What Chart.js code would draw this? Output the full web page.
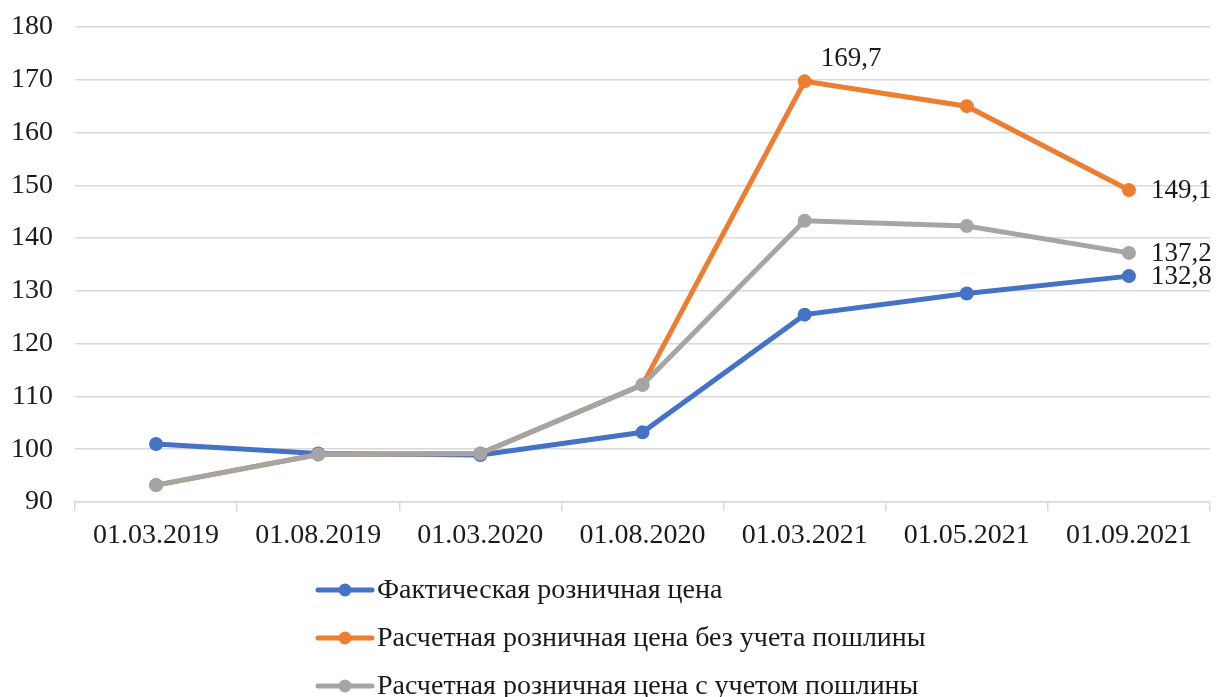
<!DOCTYPE html>
<html>
<head>
<meta charset="utf-8">
<script src="https://cdn.jsdelivr.net/npm/chart.js@4/dist/chart.umd.min.js"></script>
<style>
  html, body { margin: 0; padding: 0; background: #fff; }
  #wrap { width: 1217px; height: 697px; position: relative; }
</style>
</head>
<body>
<div id="wrap"><canvas id="chart"></canvas></div>
<script>
// Данные графика
const dates = ['01.03.2019', '01.08.2019', '01.03.2020', '01.08.2020', '01.03.2021', '01.05.2021', '01.09.2021'];
const actualPrice = [101.0, 99.2, 98.9, 103.2, 125.5, 129.5, 132.8];
const noDutyPrice = [93.2, 99.0, 99.2, 112.2, 169.7, 165.0, 149.1];
const withDutyPrice = [93.2, 99.0, 99.2, 112.2, 143.3, 142.3, 137.2];
const seriesNames = [
  'Фактическая розничная цена',
  'Расчетная розничная цена без учета пошлины',
  'Расчетная розничная цена с учетом пошлины'
];
const seriesColors = ['#4472C4', '#ED7D31', '#A5A5A5'];
// серый рисуется поверх остальных
const seriesOrder = [3, 2, 1];

// Подписи значений: [индекс ряда, индекс точки, где]
const valueLabels = [[1, 4, 'top'], [1, 6, 'right'], [2, 6, 'right'], [0, 6, 'right']];

const FONT = "'Liberation Serif', 'Times New Roman', serif";

function fmt(v) {
  return v.toFixed(1).replace('.', ',');
}

// Подписи данных
const labelPlugin = {
  id: 'valueLabels',
  afterDatasetsDraw(chart) {
    const ctx = chart.ctx;
    ctx.save();
    ctx.font = '27px ' + FONT;
    ctx.fillStyle = '#1a1a1a';
    ctx.textBaseline = 'middle';
    ctx.textAlign = 'left';
    valueLabels.forEach(([ds, idx, where]) => {
      const pt = chart.getDatasetMeta(ds).data[idx];
      const txt = fmt(chart.data.datasets[ds].data[idx]);
      if (where === 'top') {
        ctx.fillText(txt, pt.x + 16, pt.y - 22);
      } else {
        ctx.fillText(txt, pt.x + 22, pt.y + 1);
      }
    });
    ctx.restore();
  }
};

// Легенда столбиком внизу
const legendPlugin = {
  id: 'columnLegend',
  afterDraw(chart) {
    const ctx = chart.ctx;
    const base = chart.chartArea.bottom;
    ctx.save();
    chart.data.datasets.forEach((ds, i) => {
      const y = base + 88 + i * 48;
      ctx.strokeStyle = ds.borderColor;
      ctx.lineWidth = 5;
      ctx.lineCap = 'round';
      ctx.beginPath();
      ctx.moveTo(318, y);
      ctx.lineTo(372, y);
      ctx.stroke();
      ctx.fillStyle = ds.borderColor;
      ctx.beginPath();
      ctx.arc(345, y, 6.5, 0, Math.PI * 2);
      ctx.fill();
      ctx.fillStyle = '#1a1a1a';
      ctx.font = '28px ' + FONT;
      ctx.textBaseline = 'middle';
      ctx.fillText(ds.label, 377, y + 1);
    });
    ctx.restore();
  }
};

function makeSet(i, values) {
  return {
    label: seriesNames[i],
    data: values,
    order: seriesOrder[i],
    borderColor: seriesColors[i],
    backgroundColor: seriesColors[i],
    borderWidth: 5,
    pointRadius: 7,
    pointBorderWidth: 0,
    pointHoverRadius: 7,
    tension: 0
  };
}

new Chart(document.getElementById('chart'), {
  type: 'line',
  data: {
    labels: dates,
    datasets: [makeSet(0, actualPrice), makeSet(1, noDutyPrice), makeSet(2, withDutyPrice)]
  },
  options: {
    responsive: true,
    maintainAspectRatio: false,
    animation: false,
    layout: { padding: { top: 27, right: 4, left: 0, bottom: 0 } },
    plugins: {
      legend: { display: false },
      tooltip: { enabled: false }
    },
    scales: {
      x: {
        offset: true,
        grid: {
          offset: true,
          drawOnChartArea: false,
          drawTicks: true,
          tickLength: 9,
          color: '#d9d9d9',
          lineWidth: 1.5
        },
        border: { display: true, color: '#d9d9d9', width: 1.5 },
        ticks: {
          font: { family: FONT, size: 28 },
          color: '#1a1a1a',
          padding: 8,
          maxRotation: 0
        },
        afterFit(scale) { scale.height = 195; }
      },
      y: {
        min: 90,
        max: 180,
        ticks: {
          stepSize: 10,
          font: { family: FONT, size: 28 },
          color: '#1a1a1a',
          padding: 22
        },
        grid: {
          color: '#d9d9d9',
          lineWidth: 1.5,
          drawTicks: false
        },
        border: { display: false },
        afterFit(scale) {
          scale.width = 75;
          scale.paddingTop = 0;
          scale.paddingBottom = 0;
        }
      }
    }
  },
  plugins: [labelPlugin, legendPlugin]
});
</script>
</body>
</html>
